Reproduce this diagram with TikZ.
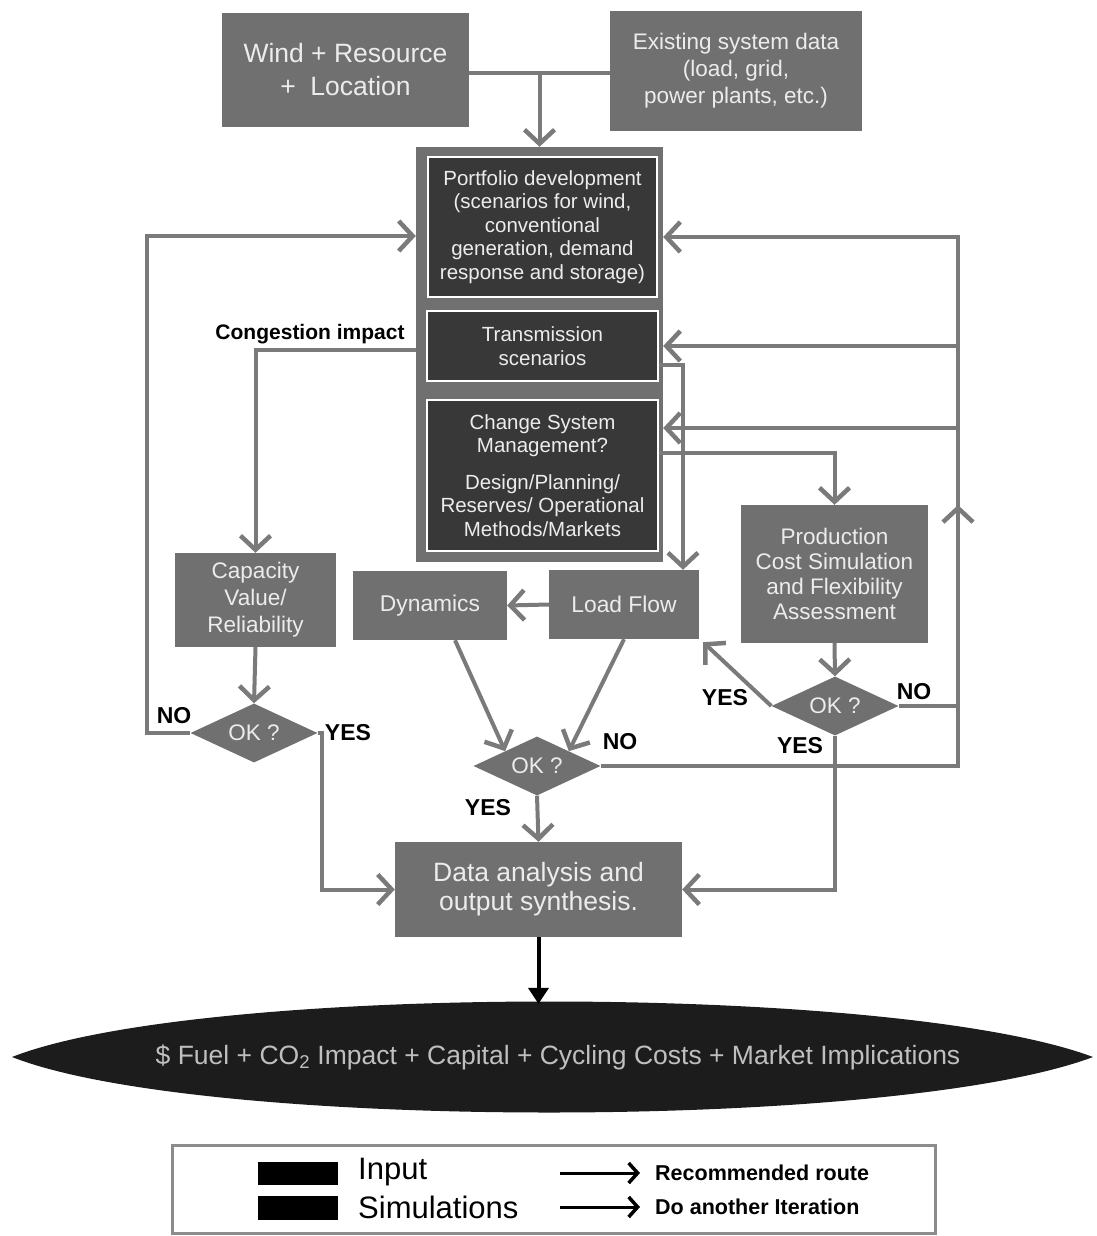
\documentclass[tikz,border=0pt]{standalone}
\usepackage{fontspec}
\setmainfont{Liberation Sans}
\usetikzlibrary{arrows.meta,shapes.geometric}

\definecolor{boxgray}{RGB}{112,112,112}
\definecolor{simgray}{RGB}{56,56,56}
\definecolor{linegray}{RGB}{122,122,122}
\definecolor{txtgray}{RGB}{236,236,236}
\definecolor{lensblack}{RGB}{28,28,28}

\begin{document}
\begin{tikzpicture}[
	x=1pt, y=-1pt,
	>={Straight Barb[length=14pt,width=30pt,line width=4.5pt]},
	flow/.style={draw=linegray, line width=4pt, ->},
	in node/.style={rectangle, fill=boxgray, text=txtgray, align=center, inner sep=0pt},
	sim node/.style={rectangle, fill=simgray, draw=white, line width=2.5pt, text=txtgray, align=center, inner sep=0pt,
		font=\fontsize{20.5}{23.5}\selectfont},
	ok node/.style={diamond, aspect=2, fill=boxgray, text=txtgray, inner sep=0pt,
		minimum width=127pt, minimum height=59pt, font=\fontsize{22.5}{26}\selectfont},
	lbl/.style={font=\bfseries\fontsize{23}{26}\selectfont, inner sep=1pt}
]
\useasboundingbox (0,0) rectangle (1096,1236);

% inputs
\node[in node, minimum width=247pt, minimum height=114pt, font=\fontsize{26.5}{33}\selectfont] (wind) at (345.5,70) {Wind + Resource\\+~~Location};
\node[in node, minimum width=252pt, minimum height=120pt, font=\fontsize{22.5}{27}\selectfont] (exist) at (736,71) {Existing system data\\(load, grid,\\power plants, etc.)};

% scenario block
\node[in node, minimum width=247pt, minimum height=415pt] (outer) at (539.5,354.5) {};
\node[sim node, minimum width=229pt, minimum height=140pt] (port) at (542.5,227) {Portfolio development\\(scenarios for wind,\\conventional\\generation, demand\\response and storage)};
\node[sim node, minimum width=231pt, minimum height=70pt] (trans) at (542.5,346) {Transmission\\scenarios};
\node[sim node, minimum width=231pt, minimum height=151pt] (change) at (542.5,475.5) {Change System\\Management?\\[13pt]Design/Planning/\\Reserves/ Operational\\Methods/Markets};

% simulations
\node[in node, minimum width=161pt, minimum height=94pt, font=\fontsize{22.5}{27}\selectfont] (cap) at (255.5,600) {Capacity\\Value/\\Reliability};
\node[in node, minimum width=154pt, minimum height=69pt, font=\fontsize{22.8}{26}\selectfont] (dyn) at (430,605.5) {Dynamics};
\node[in node, minimum width=150pt, minimum height=69pt, font=\fontsize{22.8}{26}\selectfont] (lf) at (624,604.5) {Load Flow};
\node[in node, minimum width=187pt, minimum height=138pt, font=\fontsize{22.5}{25}\selectfont] (prod) at (834.5,574) {Production\\Cost Simulation\\and Flexibility\\Assessment};

\node[ok node] (ok1) at (254,733) {OK ?};
\node[ok node] (ok2) at (537,766) {OK ?};
\node[ok node] (ok3) at (835,706) {OK ?};

\node[in node, minimum width=287pt, minimum height=95pt, font=\fontsize{26.5}{29}\selectfont] (data) at (538.5,889.5) {Data analysis and\\output synthesis.};

% result
\fill[lensblack] (12,1057) .. controls (200,983) and (896,983) .. (1093,1057) .. controls (896,1131) and (200,1131) .. (12,1057);
\node[text=black!25, minimum height=106pt, font=\fontsize{26.5}{30}\selectfont] (impact) at (558,1057) {\$ Fuel + CO\textsubscript{2} Impact + Capital + Cycling Costs + Market Implications};

% labels
\node[lbl, font=\bfseries\fontsize{21}{24}\selectfont] (cong) at (310,334) {Congestion impact};
\node[lbl] (no1) at (174,716) {NO};
\node[lbl] (yes1) at (348,733) {YES};
\node[lbl] (no2) at (620,742) {NO};
\node[lbl] (yes2) at (488,808) {YES};
\node[lbl] (yes3a) at (725,698) {YES};
\node[lbl] (no3) at (914,692) {NO};
\node[lbl] (yes3b) at (800,746) {YES};

\coordinate (lt) at (147,236);
\coordinate (rt) at (958,237);
\coordinate (rb) at (958,766);
\coordinate (rm) at (958,505);

% connectors
\draw[flow,-] (wind.east |- 0,73) -- (exist.west |- 0,73);
\draw[flow] (outer.north |- 0,73) -- (outer.north);
\draw[flow] (outer.west |- 0,350) -| (cap.north);
\draw[flow] ([yshift=-19pt]trans.east) -| ([xshift=59pt]lf.north);
\draw[flow] ([yshift=22.5pt]change.east) -| (prod.north);
\draw[flow] (lf.west) -- (dyn.east);
\draw[flow] ([xshift=25pt]dyn.south) -- (ok2.north west);
\draw[flow] (lf.south) -- (ok2.north east);
\draw[flow] (prod.south) -- (ok3.north);
\draw[flow] (ok3.west) -- ([xshift=4pt,yshift=-3pt]lf.south east);
\draw[flow] (cap.south) -- (ok1.north);
\draw[flow] (ok2.south) -- (data.north);
\draw[flow] (ok1.east) -- ++(4,0) |- (data.west);
\draw[flow] (ok3.south) |- (data.east);
\draw[flow] (ok1.west) -| (lt) -- (lt -| outer.west);
\draw[flow] (ok2.east) -- (rb) -- (rm);
\draw[flow] (ok3.east) -| (rt) -- (rt -| outer.east);
\draw[flow] (rt |- trans.east) -- (outer.east |- trans.east);
\draw[flow] (rt |- 0,428) -- (outer.east |- 0,428);
\draw[black, line width=4pt, -{Triangle[length=16pt,width=20pt]}] (data.south) -- (data.south |- impact.north);

% legend
\node[draw=black!45, line width=3pt, fill=white, minimum width=763pt, minimum height=88pt] (legend) at (553.5,1189) {};
\node[fill=black, minimum width=80pt, minimum height=23pt, inner sep=0pt] (inkey) at (298,1173.5) {};
\node[fill=black, minimum width=80pt, minimum height=24pt, inner sep=0pt] (simkey) at (298,1208) {};
\node[anchor=west, inner sep=0pt, font=\fontsize{31}{34}\selectfont] (intext) at (358,1172) {Input};
\node[anchor=west, inner sep=0pt, font=\fontsize{31}{34}\selectfont] (simtext) at (358,1207) {Simulations};
\coordinate (rs) at (560,1173);
\coordinate (re) at (640,1173);
\coordinate (ds) at (560,1207);
\coordinate (de) at (640,1207);
\draw[black, line width=3pt, -{Straight Barb[length=9pt,width=20pt,line width=3.5pt]}] (rs) -- (re);
\draw[black, line width=3pt, -{Straight Barb[length=9pt,width=20pt,line width=3.5pt]}] (ds) -- (de);
\node[anchor=west, inner sep=0pt, font=\bfseries\fontsize{21.5}{24}\selectfont] (rtext) at (655,1173) {Recommended route};
\node[anchor=west, inner sep=0pt, font=\bfseries\fontsize{21.5}{24}\selectfont] (dtext) at (655,1207) {Do another Iteration};
\end{tikzpicture}
\end{document}
